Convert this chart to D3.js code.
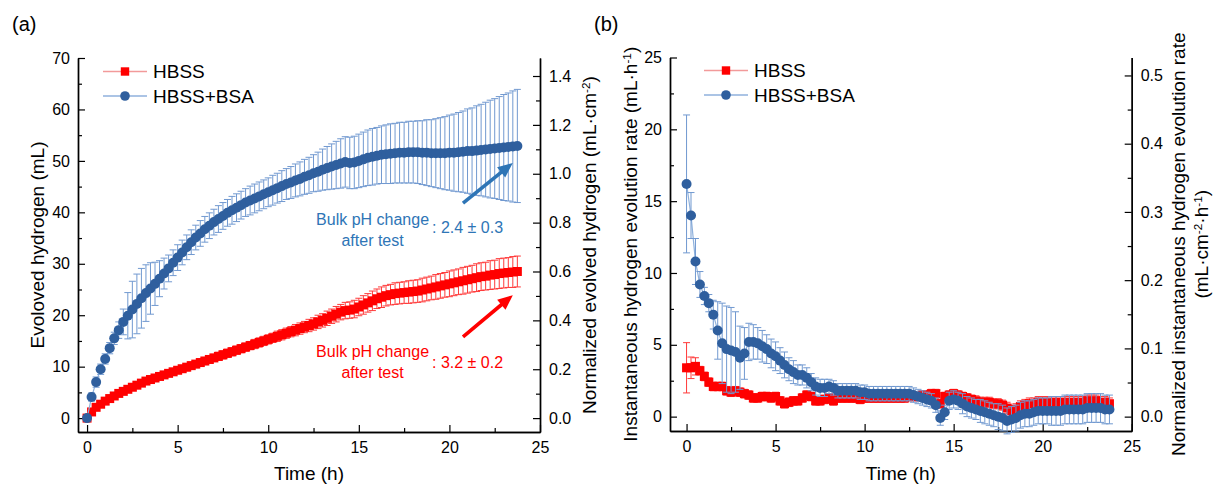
<!DOCTYPE html>
<html>
<head>
<meta charset="utf-8">
<script src="https://cdn.jsdelivr.net/npm/d3@7"></script>
<style>
  body { margin: 0; background: #fff; }
  svg { display: block; }
  text { font-family: "Liberation Sans", Arial, sans-serif; fill: #000; }
</style>
</head>
<body>
<svg id="fig" width="1214" height="484"></svg>
<script>
// ---- Data -------------------------------------------------------------
// Sampling times (h)
const hours = [
  0, 0.25, 0.5, 0.75, 1, 1.25, 1.5, 1.75, 2, 2.25, 2.5, 2.75,
  3, 3.25, 3.5, 3.75, 4, 4.25, 4.5, 4.75, 5, 5.25, 5.5, 5.75,
  6, 6.25, 6.5, 6.75, 7, 7.25, 7.5, 7.75, 8, 8.25, 8.5, 8.75,
  9, 9.25, 9.5, 9.75, 10, 10.25, 10.5, 10.75, 11, 11.25, 11.5, 11.75,
  12, 12.25, 12.5, 12.75, 13, 13.25, 13.5, 13.75, 14, 14.25, 14.5, 14.75,
  15, 15.25, 15.5, 15.75, 16, 16.25, 16.5, 16.75, 17, 17.25, 17.5, 17.75,
  18, 18.25, 18.5, 18.75, 19, 19.25, 19.5, 19.75, 20, 20.25, 20.5, 20.75,
  21, 21.25, 21.5, 21.75, 22, 22.25, 22.5, 22.75, 23, 23.25, 23.5, 23.75
];

// Evolved hydrogen (mL), HBSS
const hbssVolume = [
  0, 1.2, 2.1, 2.7, 3.3, 3.8, 4.3, 4.8, 5.2, 5.6, 6.0, 6.4,
  6.8, 7.2, 7.5, 7.8, 8.1, 8.4, 8.7, 9.0, 9.3, 9.6, 9.9, 10.2,
  10.5, 10.8, 11.1, 11.4, 11.7, 12.0, 12.3, 12.6, 12.9, 13.2, 13.5, 13.8,
  14.1, 14.4, 14.7, 15.0, 15.3, 15.6, 15.9, 16.2, 16.5, 16.8, 17.1, 17.4,
  17.7, 18.0, 18.3, 18.7, 19.0, 19.4, 19.8, 20.2, 20.6, 20.9, 21.0, 21.2,
  21.6, 22.0, 22.4, 22.8, 23.2, 23.5, 23.8, 24.0, 24.2, 24.3, 24.4, 24.5,
  24.6, 24.7, 24.9, 25.1, 25.3, 25.5, 25.7, 25.9, 26.1, 26.3, 26.5, 26.7,
  26.9, 27.1, 27.3, 27.5, 27.6, 27.8, 27.9, 28.1, 28.2, 28.3, 28.4, 28.5
];
const hbssVolumeErr = [
  0, 0.3, 0.4, 0.4, 0.4, 0.4, 0.5, 0.5, 0.5, 0.5, 0.5, 0.5,
  0.5, 0.5, 0.6, 0.6, 0.6, 0.6, 0.6, 0.6, 0.6, 0.6, 0.7, 0.7,
  0.7, 0.7, 0.7, 0.7, 0.7, 0.8, 0.8, 0.8, 0.8, 0.8, 0.8, 0.8,
  0.8, 0.9, 0.9, 0.9, 0.9, 0.9, 1.0, 1.0, 1.0, 1.0, 1.1, 1.1,
  1.1, 1.2, 1.2, 1.3, 1.3, 1.4, 1.4, 1.5, 1.5, 1.6, 1.6, 1.7,
  1.7, 1.8, 1.8, 1.9, 1.9, 2.0, 2.0, 2.0, 2.1, 2.1, 2.1, 2.2,
  2.2, 2.2, 2.3, 2.3, 2.3, 2.4, 2.4, 2.4, 2.5, 2.5, 2.5, 2.6,
  2.6, 2.6, 2.7, 2.7, 2.7, 2.8, 2.8, 2.9, 2.9, 2.9, 3.0, 3.0
];

// Evolved hydrogen (mL), HBSS+BSA
const bsaVolume = [
  0, 4.1, 7.0, 9.5, 11.5, 13.6, 15.5, 17.1, 18.7, 19.9, 21.1, 22.2,
  23.3, 24.3, 25.2, 26.1, 27.1, 28.1, 29.1, 30.2, 31.2, 32.2, 33.2, 34.2,
  35.1, 35.9, 36.7, 37.4, 38.1, 38.7, 39.3, 39.9, 40.4, 40.9, 41.4, 41.9,
  42.3, 42.7, 43.1, 43.5, 43.9, 44.3, 44.7, 45.1, 45.5, 45.8, 46.2, 46.5,
  46.9, 47.2, 47.6, 47.9, 48.3, 48.6, 48.9, 49.2, 49.5, 49.8, 49.6, 49.7,
  50.0, 50.3, 50.6, 50.8, 51.0, 51.2, 51.3, 51.4, 51.5, 51.6, 51.6, 51.7,
  51.7, 51.7, 51.6, 51.6, 51.5, 51.5, 51.5, 51.5, 51.6, 51.6, 51.7, 51.8,
  51.9, 51.9, 52.0, 52.1, 52.2, 52.3, 52.4, 52.5, 52.6, 52.7, 52.8, 52.9
];
const bsaVolumeErr = [
  0, 0.8, 1.0, 1.0, 1.0, 1.1, 1.2, 1.6, 2.5, 4.5, 5.5, 5.8,
  5.8, 5.5, 5.0, 4.2, 3.5, 3.0, 2.6, 2.5, 2.5, 2.4, 2.4, 2.4,
  2.4, 2.5, 2.5, 2.5, 2.5, 2.6, 2.6, 2.6, 2.7, 2.7, 2.7, 2.7,
  2.8, 2.8, 2.8, 2.8, 2.8, 2.9, 2.9, 3.0, 3.0, 3.1, 3.2, 3.3,
  3.4, 3.5, 3.6, 3.8, 4.0, 4.2, 4.4, 4.6, 4.8, 4.9, 5.0, 5.1,
  5.2, 5.3, 5.4, 5.5, 5.5, 5.6, 5.7, 5.8, 5.8, 5.9, 5.9, 6.0,
  6.0, 6.1, 6.2, 6.4, 6.5, 6.7, 6.9, 7.1, 7.3, 7.5, 7.7, 7.9,
  8.2, 8.4, 8.7, 8.9, 9.2, 9.5, 9.7, 10.0, 10.3, 10.5, 10.8, 11.0
];

// Instantaneous hydrogen evolution rate (mL·h-1), HBSS
const hbssRate = [
  3.4, 3.4, 3.5, 3.2, 2.8, 2.4, 2.1, 2.1, 2.1, 1.8, 1.7, 1.8,
  1.7, 1.6, 1.5, 1.3, 1.3, 1.4, 1.4, 1.3, 1.4, 1.1, 0.9, 1.0,
  1.1, 1.1, 1.3, 1.5, 1.4, 1.1, 1.1, 1.2, 1.3, 1.1, 1.3, 1.3,
  1.3, 1.3, 1.3, 1.2, 1.3, 1.3, 1.3, 1.3, 1.3, 1.3, 1.3, 1.3,
  1.3, 1.3, 1.4, 1.4, 1.4, 1.5, 1.5, 1.6, 1.6, 0.9, 1.4, 1.5,
  1.6, 1.5, 1.4, 1.3, 1.2, 1.1, 1.0, 1.0, 1.0, 0.9, 0.9, 0.8,
  0.6, 0.4, 0.5, 0.7, 0.8, 0.9, 0.9, 1.0, 1.0, 1.0, 1.0, 1.0,
  1.0, 1.0, 1.0, 1.0, 1.0, 1.0, 1.1, 1.1, 1.1, 1.0, 1.0, 0.9
];
const hbssRateErr = [
  1.75, 0.75, 0.6, 0.3, 0.3, 0.3, 0.3, 0.3, 0.3, 0.3, 0.3, 0.3,
  0.3, 0.3, 0.3, 0.3, 0.3, 0.3, 0.3, 0.3, 0.3, 0.3, 0.3, 0.3,
  0.3, 0.3, 0.3, 0.3, 0.3, 0.3, 0.3, 0.3, 0.3, 0.3, 0.3, 0.3,
  0.3, 0.3, 0.3, 0.3, 0.3, 0.3, 0.3, 0.3, 0.3, 0.3, 0.3, 0.3,
  0.3, 0.3, 0.3, 0.3, 0.3, 0.3, 0.3, 0.3, 0.3, 0.3, 0.3, 0.3,
  0.3, 0.3, 0.3, 0.3, 0.3, 0.35, 0.35, 0.35, 0.35, 0.35, 0.35, 0.35,
  0.4, 0.4, 0.4, 0.4, 0.4, 0.4, 0.4, 0.4, 0.4, 0.4, 0.4, 0.4,
  0.4, 0.4, 0.4, 0.4, 0.4, 0.4, 0.4, 0.4, 0.4, 0.4, 0.4, 0.4
];

// Instantaneous hydrogen evolution rate (mL·h-1), HBSS+BSA
const bsaRate = [
  16.2, 14.0, 10.8, 9.2, 8.4, 7.9, 7.1, 6.0, 5.1, 4.7, 4.6, 4.5,
  4.1, 4.4, 5.2, 5.2, 5.1, 4.9, 4.7, 4.4, 4.2, 3.9, 3.6, 3.3,
  3.1, 2.9, 2.9, 2.7, 2.4, 2.1, 2.0, 2.0, 2.1, 2.0, 1.8, 1.8,
  1.8, 1.8, 1.8, 1.7, 1.7, 1.6, 1.6, 1.6, 1.6, 1.6, 1.6, 1.6,
  1.6, 1.6, 1.6, 1.5, 1.4, 1.3, 1.2, 1.1, 0.8, -0.1, 0.3, 1.1,
  1.2, 1.1, 0.9, 0.7, 0.6, 0.5, 0.4, 0.3, 0.2, 0.1, 0.0, -0.1,
  -0.3, -0.2, -0.1, 0.1, 0.2, 0.2, 0.3, 0.4, 0.4, 0.4, 0.4, 0.4,
  0.4, 0.5, 0.5, 0.5, 0.5, 0.5, 0.6, 0.6, 0.6, 0.6, 0.5, 0.5
];
const bsaRateErr = [
  4.8, 1.6, 1.6, 0.9, 0.6, 0.6, 1.0, 2.0, 2.8, 3.0, 3.0, 2.8,
  2.2, 1.8, 1.3, 1.2, 1.1, 1.1, 1.0, 1.0, 1.0, 0.9, 0.9, 0.8,
  0.8, 0.7, 0.7, 0.7, 0.6, 0.6, 0.6, 0.6, 0.5, 0.5, 0.5, 0.5,
  0.5, 0.5, 0.5, 0.5, 0.5, 0.5, 0.5, 0.5, 0.5, 0.5, 0.5, 0.5,
  0.5, 0.5, 0.5, 0.5, 0.5, 0.5, 0.5, 0.5, 0.5, 0.5, 0.5, 0.6,
  0.6, 0.6, 0.7, 0.7, 0.7, 0.7, 0.8, 0.8, 0.8, 0.8, 0.9, 0.9,
  0.9, 0.9, 0.9, 0.9, 0.9, 0.9, 0.9, 0.9, 0.9, 0.9, 1.0, 1.0,
  1.0, 1.0, 1.0, 1.0, 1.0, 1.0, 1.0, 1.0, 1.0, 1.0, 1.0, 1.0
];

const seriesNames = ["HBSS", "HBSS+BSA"];

// Bulk pH change after the 24 h test
const phChangeText = ["Bulk pH change", "after test"];
const phChangeValues = [": 3.2 \u00B1 0.2", ": 2.4 \u00B1 0.3"];   // HBSS, HBSS+BSA

// Conversion from mL to mL·cm-2 for the normalized axes
const areaFactor = 47.5;

// Tick values
const timeTicks = [0, 5, 10, 15, 20, 25];
const timeMinorTicks = [2.5, 7.5, 12.5, 17.5, 22.5];
const volumeTicks = [0, 10, 20, 30, 40, 50, 60, 70];
const volumeMinorTicks = [5, 15, 25, 35, 45, 55, 65];
const volumeNormTicks = [0, 0.2, 0.4, 0.6, 0.8, 1.0, 1.2, 1.4];
const volumeNormMinorTicks = [0.1, 0.3, 0.5, 0.7, 0.9, 1.1, 1.3];
const rateTicks = [0, 5, 10, 15, 20, 25];
const rateMinorTicks = [2.5, 7.5, 12.5, 17.5, 22.5];
const rateNormTicks = [0, 0.1, 0.2, 0.3, 0.4, 0.5];
const rateNormMinorTicks = [0.05, 0.15, 0.25, 0.35, 0.45];

// ---- Styles -----------------------------------------------------------
const RED = "#ff0000", RED_LINE = "#f29a9a", RED_ERR = "#ff3a3a";
const BLUE = "#2f5f9e", BLUE_LINE = "#8fb1dc", BLUE_ERR = "#7199d0";
const NOTE_BLUE = "#2e75b6";

const svg = d3.select("#fig");
svg.append("rect").attr("width", 1214).attr("height", 484).attr("fill", "#fff");

function supLabel(textSel, parts) {
  // parts: [text, isSuperscript]
  parts.forEach(([s, sup]) => {
    const t = textSel.append("tspan").text(s);
    if (sup) t.attr("font-size", "0.62em").attr("dy", "-0.55em");
    else if (textSel.node().childNodes.length > 1) t.attr("dy", "0.34em");
  });
}

function drawArrow(g, p1, p2, color) {
  const dx = p2[0] - p1[0], dy = p2[1] - p1[1];
  const len = Math.hypot(dx, dy), ux = dx / len, uy = dy / len;
  const headL = 15, headW = 6.5;
  const bx = p2[0] - ux * headL, by = p2[1] - uy * headL;
  g.append("line")
    .attr("x1", p1[0]).attr("y1", p1[1])
    .attr("x2", bx + ux * 2).attr("y2", by + uy * 2)
    .attr("stroke", color).attr("stroke-width", 3.6);
  g.append("path")
    .attr("d", `M${p2[0]},${p2[1]}L${bx - uy * headW},${by + ux * headW}L${bx + uy * headW},${by - ux * headW}Z`)
    .attr("fill", color);
}

function drawPanel(cfg) {
  const g = svg.append("g");
  const x = d3.scaleLinear().domain(cfg.xDomain).range([cfg.left, cfg.right]);
  const y = d3.scaleLinear().domain(cfg.yDomain).range([cfg.bottom, cfg.top]);
  const yR = d3.scaleLinear()
    .domain(cfg.yDomain.map(v => v / areaFactor))
    .range([cfg.bottom, cfg.top]);

  const styleAxis = sel => {
    sel.selectAll("path.domain").attr("stroke", "#000").attr("stroke-width", 1.4);
    sel.selectAll(".tick line").attr("stroke", "#000").attr("stroke-width", 1.2);
    sel.selectAll(".tick text").attr("font-size", 16)
      .attr("font-family", "'Liberation Sans', Arial, sans-serif");
  };

  // Minor ticks
  g.append("g").attr("transform", `translate(0,${cfg.bottom})`)
    .call(d3.axisBottom(x).tickValues(timeMinorTicks).tickSize(-4).tickSizeOuter(0).tickFormat(""))
    .call(styleAxis);
  g.append("g").attr("transform", `translate(${cfg.left},0)`)
    .call(d3.axisLeft(y).tickValues(cfg.yMinor).tickSize(-4).tickSizeOuter(0).tickFormat(""))
    .call(styleAxis);
  g.append("g").attr("transform", `translate(${cfg.right},0)`)
    .call(d3.axisRight(yR).tickValues(cfg.rMinor).tickSize(-4).tickSizeOuter(0).tickFormat(""))
    .call(styleAxis);

  // Major ticks and labels
  g.append("g").attr("transform", `translate(0,${cfg.bottom})`)
    .call(d3.axisBottom(x).tickValues(timeTicks).tickSize(-7).tickSizeOuter(0).tickPadding(9.5).tickFormat(d3.format("d")))
    .call(styleAxis);
  g.append("g").attr("transform", `translate(${cfg.left},0)`)
    .call(d3.axisLeft(y).tickValues(cfg.yTicks).tickSize(-7).tickSizeOuter(0).tickPadding(8).tickFormat(d3.format("d")))
    .call(styleAxis);
  g.append("g").attr("transform", `translate(${cfg.right},0)`)
    .call(d3.axisRight(yR).tickValues(cfg.rTicks).tickSize(-7).tickSizeOuter(0).tickPadding(9).tickFormat(d3.format(".1f")))
    .call(styleAxis);

  // Series: HBSS first, HBSS+BSA drawn on top
  const series = [
    { vals: cfg.hbss, err: cfg.hbssErr, color: RED, line: RED_LINE, errColor: RED_ERR, shape: "square" },
    { vals: cfg.bsa, err: cfg.bsaErr, color: BLUE, line: BLUE_LINE, errColor: BLUE_ERR, shape: "circle" }
  ];
  series.forEach(s => {
    const pts = hours.map((t, i) => ({ t, v: s.vals[i], e: s.err[i] }));
    const sg = g.append("g");
    sg.append("path").datum(pts)
      .attr("fill", "none").attr("stroke", s.line).attr("stroke-width", 1.2)
      .attr("d", d3.line().x(d => x(d.t)).y(d => y(d.v)));
    const eb = sg.append("g").attr("stroke", s.errColor).attr("stroke-width", 1).attr("fill", "none");
    pts.filter(d => d.e > 0).forEach(d => {
      const cx = x(d.t), y1 = y(d.v + d.e), y0 = y(d.v - d.e);
      eb.append("path").attr("d",
        `M${cx},${y0}V${y1}M${cx - 3.5},${y1}H${cx + 3.5}M${cx - 3.5},${y0}H${cx + 3.5}`);
    });
    if (s.shape === "square") {
      sg.selectAll("rect.m").data(pts).join("rect").attr("class", "m")
        .attr("x", d => x(d.t) - 4.5).attr("y", d => y(d.v) - 4.5)
        .attr("width", 9).attr("height", 9).attr("fill", s.color);
    } else {
      sg.selectAll("circle.m").data(pts).join("circle").attr("class", "m")
        .attr("cx", d => x(d.t)).attr("cy", d => y(d.v)).attr("r", 5)
        .attr("fill", s.color);
    }
  });

  // Legend
  const lg = g.append("g");
  seriesNames.forEach((name, i) => {
    const s = series[i];
    const ly = cfg.legendY + i * 24.5;
    lg.append("line").attr("x1", cfg.legendX).attr("x2", cfg.legendX + 44)
      .attr("y1", ly).attr("y2", ly).attr("stroke", s.line).attr("stroke-width", 1.5);
    const mx = cfg.legendX + 22;
    if (s.shape === "square") {
      lg.append("rect").attr("x", mx - 4.2).attr("y", ly - 4.2).attr("width", 8.4).attr("height", 8.4).attr("fill", s.color);
    } else {
      lg.append("circle").attr("cx", mx).attr("cy", ly).attr("r", 4.8).attr("fill", s.color);
    }
    lg.append("text").attr("x", cfg.legendX + 50).attr("y", ly + 6.8)
      .attr("font-size", 19).text(name);
  });

  // Axis titles
  g.append("text").attr("x", (cfg.left + cfg.right) / 2).attr("y", 480)
    .attr("text-anchor", "middle").attr("font-size", 19).text("Time (h)");

  const yc = (cfg.top + cfg.bottom) / 2;
  const lt = g.append("text").attr("transform", `translate(${cfg.leftTitleX},${yc}) rotate(-90)`)
    .attr("text-anchor", "middle").attr("font-size", 19);
  supLabel(lt, cfg.leftTitle);
  cfg.rightTitles.forEach((parts, i) => {
    const rt = g.append("text").attr("transform", `translate(${cfg.rightTitleX[i]},${yc}) rotate(-90)`)
      .attr("text-anchor", "middle").attr("font-size", 19);
    supLabel(rt, parts);
  });

  g.append("text").attr("x", cfg.tagX).attr("y", 31).attr("font-size", 20).text(cfg.tag);

  return { g, x, y };
}

// ---- Panel (a): cumulative hydrogen volume ------------------------------
const pa = drawPanel({
  tag: "(a)", tagX: 12,
  left: 78, right: 540, top: 58, bottom: 432,
  xDomain: [-0.5, 25], yDomain: [-2.7, 70],
  yTicks: volumeTicks, yMinor: volumeMinorTicks,
  rTicks: volumeNormTicks, rMinor: volumeNormMinorTicks,
  hbss: hbssVolume, hbssErr: hbssVolumeErr, bsa: bsaVolume, bsaErr: bsaVolumeErr,
  legendX: 103, legendY: 71.5,
  leftTitleX: 44, leftTitle: [["Evoloved hydrogen (mL)", false]],
  rightTitleX: [596],
  rightTitles: [[["Normalized evolved hydrogen (mL\u00B7cm", false], ["-2", true], [")", false]]]
});

// pH annotations, placed in data units of panel (a)
const notes = [
  { color: RED, value: phChangeValues[0], from: [20.75, 15.8], to: [23.5, 23.9], textAt: [15.76, 11.9], valueAt: [19.04, 9.7] },
  { color: NOTE_BLUE, value: phChangeValues[1], from: [20.75, 41.8], to: [23.5, 49.6], textAt: [15.76, 37.5], valueAt: [19.04, 35.9] }
];
notes.forEach(n => {
  const ag = pa.g.append("g");
  drawArrow(ag, [pa.x(n.from[0]), pa.y(n.from[1])], [pa.x(n.to[0]), pa.y(n.to[1])], n.color);
  phChangeText.forEach((line, i) => {
    ag.append("text").attr("x", pa.x(n.textAt[0])).attr("y", pa.y(n.textAt[1]) + i * 21)
      .attr("text-anchor", "middle").attr("font-family", "Lato, 'Open Sans', sans-serif")
      .attr("font-size", 16).style("fill", n.color).text(line);
  });
  ag.append("text").attr("x", pa.x(n.valueAt[0])).attr("y", pa.y(n.valueAt[1]))
    .attr("font-family", "Lato, 'Open Sans', sans-serif")
    .attr("font-size", 16).style("fill", n.color).text(n.value);
});

// ---- Panel (b): instantaneous evolution rate ----------------------------
drawPanel({
  tag: "(b)", tagX: 594,
  left: 670, right: 1131.7, top: 57.5, bottom: 431,
  xDomain: [-0.93, 25], yDomain: [-1, 25],
  yTicks: rateTicks, yMinor: rateMinorTicks,
  rTicks: rateNormTicks, rMinor: rateNormMinorTicks,
  hbss: hbssRate, hbssErr: hbssRateErr, bsa: bsaRate, bsaErr: bsaRateErr,
  legendX: 704, legendY: 70.5,
  leftTitleX: 637,
  leftTitle: [["Instantaneous hydrogen evolution rate (mL\u00B7h", false], ["-1", true], [")", false]],
  rightTitleX: [1185, 1208],
  rightTitles: [
    [["Normalized instantaneous hydrogen evolution rate", false]],
    [["(mL\u00B7cm", false], ["-2", true], ["\u00B7h", false], ["-1", true], [")", false]]
  ]
});
</script>
</body>
</html>
